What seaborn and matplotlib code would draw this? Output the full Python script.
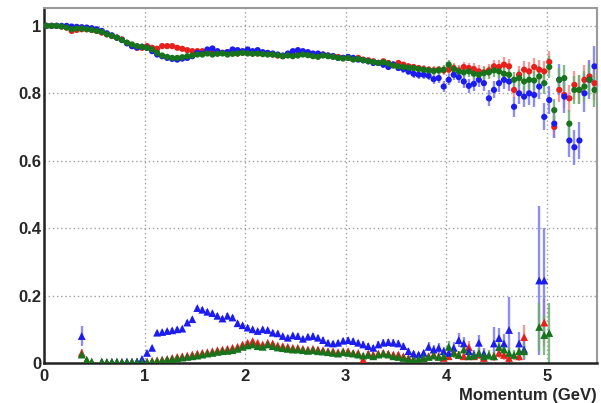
import numpy as np
import pandas as pd
import matplotlib
matplotlib.use("Agg")
import matplotlib.pyplot as plt
import seaborn as sns
from matplotlib.ticker import MultipleLocator, FixedLocator, FuncFormatter

sns.set_theme(style="white")
plt.rcParams['font.family'] = ['Liberation Sans', 'DejaVu Sans']

nan = np.nan
n_bins = 110
bin_width = 0.05
momentum = np.arange(n_bins) * bin_width + bin_width / 2  # bin centres (GeV)

# ---------------- efficiency (upper curves, circles) ----------------
eff_red = [1.0, 1.0, 1.0, 0.998, 0.995, 0.985, 0.988, 0.99, 0.99, 0.988,
           0.985, 0.98, 0.975, 0.97, 0.965, 0.96, 0.95, 0.94, 0.935, 0.935,
           0.94, 0.935, 0.932, 0.94, 0.94, 0.94, 0.935, 0.932, 0.928, 0.925,
           0.925, 0.925, 0.922, 0.92, 0.92, 0.92, 0.922, 0.92, 0.918, 0.92,
           0.922, 0.92, 0.918, 0.92, 0.918, 0.915, 0.912, 0.91, 0.915, 0.912,
           0.915, 0.918, 0.915, 0.912, 0.91, 0.915, 0.912, 0.91, 0.908, 0.905,
           0.905, 0.902, 0.905, 0.9, 0.898, 0.895, 0.89, 0.895, 0.89, 0.885,
           0.89, 0.885, 0.88, 0.878, 0.875, 0.872, 0.87, 0.868, 0.87, 0.868,
           0.87, 0.875, 0.868, 0.878, 0.875, 0.872, 0.865, 0.862, 0.868, 0.88,
           0.878, 0.885, 0.88, 0.81, 0.855, 0.87, 0.865, 0.878, 0.87, 0.865,
           0.893, 0.70, 0.81, 0.795, 0.785, 0.825, 0.81, 0.84, 0.85, 0.83]
eff_green = [1.0, 1.0, 1.0, 0.998, 0.995, 0.99, 0.992, 0.992, 0.99, 0.988,
             0.985, 0.982, 0.975, 0.97, 0.965, 0.958, 0.95, 0.945, 0.94, 0.938,
             0.935, 0.93, 0.92, 0.912, 0.908, 0.905, 0.905, 0.907, 0.91, 0.912,
             0.915, 0.915, 0.918, 0.915, 0.917, 0.918, 0.915, 0.917, 0.918, 0.92,
             0.918, 0.917, 0.918, 0.916, 0.915, 0.915, 0.913, 0.91, 0.912, 0.91,
             0.912, 0.915, 0.913, 0.91, 0.908, 0.912, 0.91, 0.908, 0.905, 0.903,
             0.905, 0.9, 0.902, 0.898, 0.895, 0.893, 0.89, 0.892, 0.888, 0.882,
             0.88, 0.878, 0.876, 0.875, 0.872, 0.87, 0.868, 0.866, 0.868, 0.87,
             0.885, 0.872, 0.865, 0.862, 0.865, 0.858, 0.855, 0.86, 0.862, 0.868,
             0.865, 0.858, 0.855, 0.84, 0.845, 0.835, 0.84, 0.838, 0.85, 0.83,
             0.878, 0.75, 0.84, 0.845, 0.71, 0.81, 0.81, 0.82, 0.84, 0.81]
eff_blue = [1.0, 1.0, 1.0, 1.0, 1.0, 0.998, 0.997, 0.996, 0.995, 0.993,
            0.99, 0.985, 0.978, 0.972, 0.965, 0.958, 0.948, 0.94, 0.936, 0.938,
            0.935, 0.925, 0.915, 0.91, 0.905, 0.902, 0.9, 0.903, 0.905, 0.91,
            0.92, 0.918, 0.93, 0.933, 0.925, 0.92, 0.922, 0.93, 0.928, 0.925,
            0.93, 0.925, 0.928, 0.922, 0.92, 0.918, 0.915, 0.912, 0.918, 0.925,
            0.928, 0.925, 0.922, 0.918, 0.918, 0.915, 0.912, 0.91, 0.905, 0.905,
            0.908, 0.905, 0.9, 0.898, 0.895, 0.89, 0.89, 0.885, 0.878, 0.885,
            0.875, 0.872, 0.865, 0.858, 0.855, 0.855, 0.852, 0.842, 0.845, 0.82,
            0.84, 0.855, 0.848, 0.835, 0.822, 0.828, 0.84, 0.83, 0.785, 0.81,
            0.83, 0.84, 0.835, 0.76, 0.80, 0.79, 0.80, 0.795, 0.82, 0.73,
            0.78, 0.71, 0.84, 0.79, 0.66, 0.64, 0.66, 0.80, 0.84, 0.88]

eff_err_rg = [0.002, 0.002, 0.002, 0.002, 0.002, 0.002, 0.002, 0.002, 0.002, 0.002,
              0.002, 0.002, 0.002, 0.002, 0.002, 0.002, 0.002, 0.002, 0.002, 0.002,
              0.003, 0.003, 0.003, 0.003, 0.003, 0.003, 0.003, 0.003, 0.003, 0.003,
              0.003, 0.003, 0.003, 0.003, 0.003, 0.003, 0.003, 0.003, 0.003, 0.003,
              0.004, 0.004, 0.004, 0.004, 0.004, 0.004, 0.004, 0.004, 0.004, 0.004,
              0.005, 0.005, 0.005, 0.005, 0.005, 0.005, 0.005, 0.005, 0.005, 0.005,
              0.006, 0.006, 0.006, 0.006, 0.007, 0.007, 0.007, 0.007, 0.008, 0.008,
              0.008, 0.009, 0.009, 0.010, 0.010, 0.011, 0.011, 0.012, 0.012, 0.013,
              0.013, 0.014, 0.015, 0.015, 0.016, 0.017, 0.018, 0.018, 0.019, 0.020,
              0.021, 0.022, 0.023, 0.024, 0.025, 0.026, 0.027, 0.028, 0.030, 0.031,
              0.033, 0.034, 0.036, 0.038, 0.040, 0.041, 0.043, 0.045, 0.047, 0.050]
eff_err_b = [0.002, 0.002, 0.002, 0.002, 0.002, 0.002, 0.002, 0.002, 0.002, 0.002,
             0.002, 0.002, 0.002, 0.002, 0.002, 0.002, 0.002, 0.002, 0.002, 0.002,
             0.003, 0.003, 0.003, 0.003, 0.003, 0.003, 0.003, 0.003, 0.003, 0.003,
             0.003, 0.003, 0.003, 0.003, 0.003, 0.003, 0.003, 0.003, 0.003, 0.003,
             0.004, 0.004, 0.004, 0.004, 0.004, 0.004, 0.004, 0.004, 0.004, 0.004,
             0.005, 0.005, 0.005, 0.005, 0.005, 0.006, 0.006, 0.006, 0.006, 0.006,
             0.007, 0.007, 0.007, 0.007, 0.008, 0.008, 0.008, 0.009, 0.009, 0.010,
             0.010, 0.011, 0.011, 0.012, 0.012, 0.013, 0.013, 0.014, 0.015, 0.016,
             0.016, 0.017, 0.018, 0.019, 0.020, 0.021, 0.022, 0.023, 0.024, 0.025,
             0.026, 0.027, 0.028, 0.030, 0.031, 0.032, 0.034, 0.035, 0.037, 0.040,
             0.042, 0.044, 0.046, 0.048, 0.050, 0.052, 0.054, 0.056, 0.058, 0.060]

# ---------------- fake rate (lower curves, triangles) ----------------
fake_red = [nan, nan, nan, nan, nan, nan, nan, 0.03, 0.008, 0.003,
            nan, 0.003, 0.002, 0.003, 0.002, 0.003, 0.002, 0.003, 0.002, 0.003,
            0.004, 0.006, 0.008, 0.01, 0.012, 0.015, 0.018, 0.02, 0.022, 0.025,
            0.028, 0.03, 0.032, 0.035, 0.038, 0.04, 0.042, 0.045, 0.048, 0.055,
            0.06, 0.065, 0.06, 0.055, 0.06, 0.058, 0.052, 0.05, 0.048, 0.045,
            0.045, 0.042, 0.04, 0.042, 0.04, 0.038, 0.035, 0.035, 0.032, 0.035,
            0.035, 0.03, 0.03, 0.01, 0.028, 0.025, 0.028, 0.03, 0.028, 0.025,
            0.025, 0.02, 0.015, 0.012, 0.01, 0.015, 0.02, 0.025, 0.02, 0.015,
            0.02, 0.033, 0.025, 0.02, 0.047, 0.02, 0.025, 0.015, nan, 0.02,
            0.03, 0.024, 0.015, nan, 0.02, 0.077, nan, nan, nan, 0.12,
            nan, nan, nan, nan, nan, nan, nan, nan, nan, nan]
fake_green = [nan, nan, nan, nan, nan, nan, nan, 0.025, 0.01, 0.004,
              nan, 0.004, 0.003, 0.003, 0.004, 0.003, 0.003, 0.004, 0.003, 0.003,
              0.003, 0.005, 0.006, 0.008, 0.01, 0.012, 0.014, 0.016, 0.018, 0.02,
              0.022, 0.025, 0.028, 0.03, 0.033, 0.035, 0.036, 0.038, 0.042, 0.048,
              0.052, 0.055, 0.05, 0.048, 0.055, 0.05, 0.046, 0.044, 0.042, 0.04,
              0.04, 0.038, 0.036, 0.038, 0.035, 0.034, 0.032, 0.03, 0.028, 0.032,
              0.03, 0.028, 0.025, 0.022, 0.024, 0.02, 0.025, 0.028, 0.025, 0.02,
              0.018, 0.015, 0.012, 0.01, 0.012, 0.015, 0.018, 0.022, 0.018, 0.02,
              0.048, 0.03, 0.024, 0.04, 0.02, 0.022, 0.03, 0.02, 0.024, 0.02,
              0.047, 0.04, 0.03, 0.024, 0.035, 0.035, nan, nan, 0.107, 0.083,
              0.089, nan, nan, nan, nan, nan, nan, nan, nan, nan]
fake_blue = [nan, nan, nan, nan, nan, nan, nan, 0.08, 0.005, nan,
             nan, 0.003, 0.002, 0.003, 0.003, 0.002, 0.004, 0.003, 0.005, 0.012,
             0.03, 0.045, 0.09, 0.092, 0.095, 0.097, 0.1, 0.102, 0.12, 0.13,
             0.163, 0.158, 0.152, 0.148, 0.14, 0.132, 0.14, 0.135, 0.118, 0.112,
             0.105, 0.1, 0.095, 0.1, 0.098, 0.09, 0.088, 0.08, 0.075, 0.082,
             0.08, 0.072, 0.078, 0.08, 0.075, 0.068, 0.06, 0.058, 0.06, 0.066,
             0.068, 0.065, 0.06, 0.055, 0.05, 0.045, 0.055, 0.06, 0.062, 0.06,
             0.058, 0.05, 0.035, 0.028, 0.025, 0.03, 0.048, 0.04, 0.045, 0.035,
             0.03, 0.045, 0.068, 0.058, 0.035, 0.025, 0.06, 0.028, nan, 0.058,
             0.074, 0.058, 0.098, nan, 0.058, 0.04, nan, nan, 0.245, 0.245,
             nan, nan, nan, nan, nan, nan, nan, nan, nan, nan]

fake_err_red = [0, 0, 0, 0, 0, 0, 0, 0.012, 0.004, 0.002,
                0, 0.002, 0.002, 0.002, 0.002, 0.002, 0.002, 0.002, 0.002, 0.002,
                0.002, 0.002, 0.002, 0.002, 0.003, 0.003, 0.003, 0.003, 0.003, 0.003,
                0.003, 0.003, 0.003, 0.004, 0.004, 0.004, 0.004, 0.004, 0.004, 0.005,
                0.005, 0.005, 0.005, 0.005, 0.005, 0.005, 0.005, 0.005, 0.005, 0.005,
                0.005, 0.005, 0.005, 0.006, 0.006, 0.006, 0.006, 0.006, 0.006, 0.007,
                0.007, 0.007, 0.007, 0.005, 0.007, 0.007, 0.008, 0.008, 0.008, 0.008,
                0.008, 0.008, 0.007, 0.007, 0.007, 0.008, 0.009, 0.010, 0.010, 0.009,
                0.010, 0.014, 0.012, 0.012, 0.018, 0.012, 0.014, 0.012, 0, 0.014,
                0.016, 0.015, 0.012, 0, 0.015, 0.035, 0, 0, 0, 0.07,
                0, 0, 0, 0, 0, 0, 0, 0, 0, 0]
fake_err_green = [0, 0, 0, 0, 0, 0, 0, 0.008, 0.004, 0.002,
                  0, 0.002, 0.002, 0.002, 0.002, 0.002, 0.002, 0.002, 0.002, 0.002,
                  0.002, 0.002, 0.002, 0.002, 0.003, 0.003, 0.003, 0.003, 0.003, 0.003,
                  0.003, 0.003, 0.003, 0.004, 0.004, 0.004, 0.004, 0.004, 0.004, 0.005,
                  0.005, 0.005, 0.005, 0.005, 0.005, 0.005, 0.005, 0.005, 0.005, 0.005,
                  0.005, 0.005, 0.005, 0.006, 0.006, 0.006, 0.006, 0.006, 0.006, 0.007,
                  0.007, 0.007, 0.007, 0.007, 0.007, 0.007, 0.008, 0.008, 0.008, 0.008,
                  0.008, 0.008, 0.007, 0.007, 0.007, 0.008, 0.009, 0.010, 0.010, 0.010,
                  0.018, 0.014, 0.012, 0.016, 0.012, 0.012, 0.015, 0.012, 0.014, 0.012,
                  0.022, 0.02, 0.018, 0.016, 0.02, 0.022, 0, 0, 0.07, 0.06,
                  0.09, 0, 0, 0, 0, 0, 0, 0, 0, 0]
fake_err_blue = [0, 0, 0, 0, 0, 0, 0, 0.03, 0.004, 0,
                 0, 0.002, 0.002, 0.002, 0.002, 0.002, 0.002, 0.002, 0.003, 0.004,
                 0.005, 0.006, 0.006, 0.006, 0.006, 0.006, 0.006, 0.006, 0.007, 0.007,
                 0.007, 0.007, 0.007, 0.007, 0.007, 0.007, 0.007, 0.007, 0.007, 0.007,
                 0.007, 0.007, 0.007, 0.007, 0.007, 0.007, 0.007, 0.007, 0.007, 0.008,
                 0.008, 0.008, 0.008, 0.008, 0.008, 0.008, 0.008, 0.008, 0.008, 0.009,
                 0.009, 0.009, 0.009, 0.009, 0.009, 0.009, 0.010, 0.010, 0.010, 0.010,
                 0.010, 0.010, 0.009, 0.009, 0.009, 0.010, 0.013, 0.013, 0.014, 0.013,
                 0.013, 0.016, 0.022, 0.02, 0.016, 0.014, 0.024, 0.016, 0, 0.05,
                 0.03, 0.028, 0.097, 0, 0.035, 0.03, 0, 0, 0.22, 0.155,
                 0, 0, 0, 0, 0, 0, 0, 0, 0, 0]

series_names = ["red", "blue", "green"]
marker_colors = {"red": "#e8201c", "blue": "#1c1cf0", "green": "#17731c"}
bar_colors = {"red": "#f08a8a", "blue": "#7a7af0", "green": "#6fae72"}

eff_vals = {"red": (eff_red, eff_err_rg), "blue": (eff_blue, eff_err_b),
            "green": (eff_green, eff_err_rg)}
fake_vals = {"red": (fake_red, fake_err_red), "blue": (fake_blue, fake_err_blue),
             "green": (fake_green, fake_err_green)}

rows = []
for kind, table in (("eff", eff_vals), ("fake", fake_vals)):
    for s in series_names:
        vals, errs = table[s]
        for m, v, e in zip(momentum, vals, errs):
            rows.append({"momentum": m, "value": v, "err": e, "series": s, "kind": kind})
df = pd.DataFrame(rows).dropna(subset=["value"])

fig = plt.figure(figsize=(6.01, 4.03), dpi=100)
ax = fig.add_axes([44 / 601, 40 / 403, 553 / 601, 355 / 403])

# error bars
for (kind, s), sub in df.groupby(["kind", "series"], sort=False):
    ax.errorbar(sub["momentum"], sub["value"], yerr=sub["err"], fmt="none",
                ecolor=bar_colors[s], elinewidth=1.7, alpha=0.85, zorder=2)

eff_df = df[df["kind"] == "eff"]
fake_df = df[df["kind"] == "fake"]
sns.scatterplot(data=eff_df, x="momentum", y="value", hue="series",
                hue_order=series_names, palette=marker_colors, marker="o",
                s=20, linewidth=0, legend=False, ax=ax, zorder=3)
sns.scatterplot(data=fake_df, x="momentum", y="value", hue="series",
                hue_order=series_names, palette=marker_colors, marker="^",
                s=32, linewidth=0, legend=False, ax=ax, zorder=3)

ax.set_xlim(0, 5.5)
ax.set_ylim(0, 1.053)

ax.xaxis.set_major_locator(MultipleLocator(1))
ax.xaxis.set_minor_locator(MultipleLocator(0.2))
ax.yaxis.set_major_locator(FixedLocator([0, 0.2, 0.4, 0.6, 0.8, 1.0]))
ax.yaxis.set_minor_locator(MultipleLocator(0.05))
ax.yaxis.set_major_formatter(FuncFormatter(lambda v, p: f"{v:g}"))
ax.xaxis.set_major_formatter(FuncFormatter(lambda v, p: f"{v:g}"))

ax.grid(True, which="major", linestyle=(0, (1, 2)), color="#a0a0a0", linewidth=1.0)
ax.set_axisbelow(True)

ax.tick_params(axis="y", which="major", direction="in", length=11, width=1.3,
               color="#333333", pad=2, labelsize=12)
ax.tick_params(axis="y", which="minor", direction="in", length=5, width=1.0,
               color="#333333")
ax.tick_params(axis="x", which="major", direction="in", length=7, width=1.3,
               color="#333333", pad=4, labelsize=12)
ax.tick_params(axis="x", which="minor", direction="in", length=3.5, width=1.0,
               color="#333333")
for lab in ax.get_xticklabels() + ax.get_yticklabels():
    lab.set_fontweight("bold")

for side in ("left", "bottom"):
    ax.spines[side].set_color("#222222")
    ax.spines[side].set_linewidth(1.8)
for side in ("top", "right"):
    ax.spines[side].set_color("#9a9a9a")
    ax.spines[side].set_linewidth(1.5)

ax.set_ylabel("")
ax.set_xlabel("Momentum (GeV)", loc="right", fontweight="bold", fontsize=12,
              labelpad=3)

fig.savefig("out.png", dpi=100)
